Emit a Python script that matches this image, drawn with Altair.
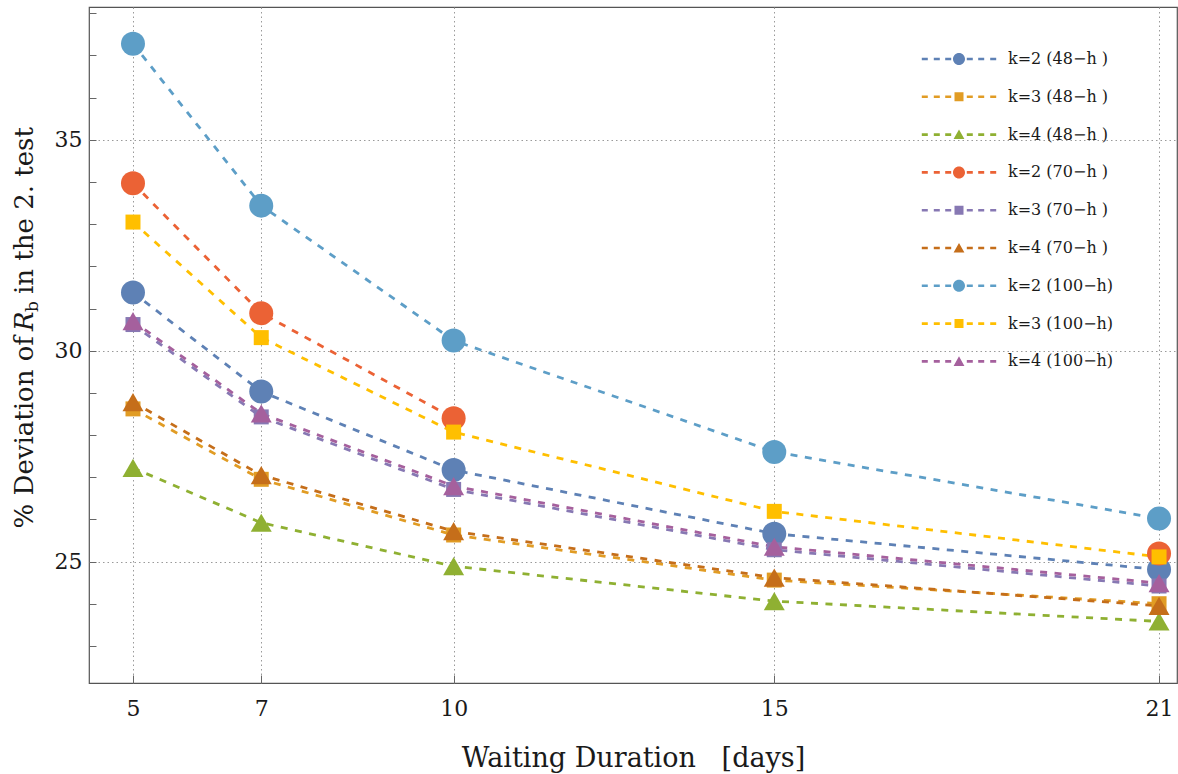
import altair as alt
import pandas as pd

# ---------------- data ----------------
days = [5, 7, 10, 15, 21]
series_names = [
    "k=2 (48\u2212h )", "k=3 (48\u2212h )", "k=4 (48\u2212h )",
    "k=2 (70\u2212h )", "k=3 (70\u2212h )", "k=4 (70\u2212h )",
    "k=2 (100\u2212h)", "k=3 (100\u2212h)", "k=4 (100\u2212h)",
]
k2_48 = [31.38, 29.03, 27.17, 25.66, 24.81]
k3_48 = [28.62, 26.95, 25.63, 24.56, 24.00]
k4_48 = [27.22, 25.92, 24.89, 24.06, 23.58]
k2_70 = [33.97, 30.89, 28.40, None, 25.19]
k3_70 = [30.62, 28.43, 26.71, 25.28, 24.42]
k4_70 = [28.78, 27.05, 25.72, 24.62, 23.95]
k2_100 = [37.28, 33.44, 30.24, 27.60, 26.02]
k3_100 = [33.05, 30.31, 28.07, 26.19, 25.11]
k4_100 = [30.70, 28.51, 26.79, 25.35, 24.49]
values = [k2_48, k3_48, k4_48, k2_70, k3_70, k4_70, k2_100, k3_100, k4_100]

colors = ["#5E81B5", "#E19C24", "#8FB032", "#EB6235", "#8778B3",
          "#C56E1A", "#5D9EC7", "#FFBF00", "#A5609D"]
marker_kind = ["circle", "square", "triangle-up"] * 3
marker_size = {"circle": 576, "square": 225, "triangle-up": 440}

# legend symbols: dashed line with marker in the middle (unit = sqrt(size)/2 px)
dash = ("M-6.2,-0.22H-5.2V0.22H-6.2Z M-4.2,-0.22H-3.2V0.22H-4.2Z M-2.3,-0.22H-1.3V0.22H-2.3Z "
        "M1.3,-0.22H2.3V0.22H1.3Z M3.2,-0.22H4.2V0.22H3.2Z M5.2,-0.22H6.2V0.22H5.2Z ")
legend_marker = {
    "circle": "M1,0A1,1,0,1,1,-1,0A1,1,0,1,1,1,0Z",
    "square": "M-0.75,-0.75H0.75V0.75H-0.75Z",
    "triangle-up": "M0,-0.85L0.9,0.75L-0.9,0.75Z",
}
legend_paths = [dash + legend_marker[m] for m in marker_kind]

rows = []
for si, (name, vals) in enumerate(zip(series_names, values)):
    seg = 0
    for d, v in zip(days, vals):
        if v is None:
            seg += 1
            continue
        rows.append({"series": name, "day": d, "value": v, "idx": si,
                     "marker": marker_kind[si], "msize": marker_size[marker_kind[si]],
                     "seg": f"{si}-{seg}"})
df = pd.DataFrame(rows)

FONT = "DejaVu Serif"
TXT = "#1a1a1a"
W, H = 1088, 676

xscale = alt.Scale(domain=[4.314, 21.28], nice=False, zero=False)
yscale = alt.Scale(domain=[22.12, 38.15], nice=False, zero=False)
cscale = alt.Scale(domain=series_names, range=colors)

x_main = alt.Axis(orient="bottom", values=days, ticks=False, tickSize=0, domain=False,
                  grid=True, gridColor="#9a9a9a", gridDash=[1.5, 3], gridWidth=1,
                  labelFont=FONT, labelFontSize=22, labelColor=TXT, labelPadding=32,
                  labelBaseline="alphabetic", format="d",
                  title="Waiting Duration\u00a0\u00a0 [days]", titleFont=FONT, titleFontSize=27,
                  titleFontWeight="normal", titleColor=TXT, titleX=W / 2, titleY=83,
                  titleBaseline="alphabetic", titleAlign="center")
y_main = alt.Axis(orient="left", values=[25, 30, 35], ticks=False, tickSize=0, domain=False,
                  grid=True, gridColor="#9a9a9a", gridDash=[1.5, 3], gridWidth=1,
                  labelFont=FONT, labelFontSize=22, labelColor=TXT, labelPadding=7,
                  format="d", title=None)
x_ticks = alt.Axis(orient="bottom", values=days, ticks=True, tickSize=8, offset=-8,
                   labels=False, domain=False, grid=False, title=None,
                   tickColor="#666", tickWidth=1)
y_ticks = alt.Axis(orient="left", values=list(range(23, 39)), ticks=True, tickSize=7, offset=-7,
                   labels=False, domain=False, grid=False, title=None,
                   tickColor="#666", tickWidth=1)

lines = alt.Chart(df).mark_line(strokeDash=[7, 7.5], strokeWidth=2.8).encode(
    x=alt.X("day:Q", scale=xscale, axis=x_main),
    y=alt.Y("value:Q", scale=yscale, axis=y_main),
    color=alt.Color("series:N", scale=cscale, legend=None),
    detail="seg:N",
)

points = alt.Chart(df).mark_point(filled=True, opacity=1).encode(
    x=alt.X("day:Q", scale=xscale, axis=None),
    y=alt.Y("value:Q", scale=yscale, axis=None),
    color=alt.Color("series:N", scale=cscale, legend=None),
    shape=alt.Shape("marker:N", scale=None),
    size=alt.Size("msize:Q", scale=None),
    order=alt.Order("idx:Q"),
)

leg = alt.Legend(title=None, orient="none", legendX=862, legendY=44, direction="vertical",
                 symbolSize=144, labelOffset=41, rowPadding=21.8, padding=0,
                 labelFont=FONT, labelFontSize=16, labelColor=TXT, symbolOpacity=1,
                 symbolStrokeWidth=0, labelLimit=300)

legend_layer = alt.Chart(df).mark_point(filled=True, opacity=0).encode(
    x=alt.X("day:Q", scale=xscale, axis=x_ticks),
    y=alt.Y("value:Q", scale=yscale, axis=y_ticks),
    color=alt.Color("series:N", scale=cscale, legend=leg),
    shape=alt.Shape("series:N", scale=alt.Scale(domain=series_names, range=legend_paths),
                    legend=leg),
)

# y-axis title with italic R and subscript b
def ytext(t, y, x=-56, size=26, style="normal", align="left"):
    return alt.Chart(pd.DataFrame({"t": [t]})).mark_text(
        angle=270, font=FONT, fontSize=size, fontStyle=style, color=TXT,
        baseline="alphabetic", align=align,
    ).encode(x=alt.value(x), y=alt.value(y), text="t:N")

yt1 = ytext("% Deviation of", 329, align="right")
yt2 = ytext("R", 324, style="italic")
yt3 = ytext("b", 305, x=-51, size=17)
yt4 = ytext("in the 2. test", 287)

chart = alt.layer(legend_layer, lines, points, yt1, yt2, yt3, yt4).resolve_axis(
    x="independent", y="independent"
).resolve_legend(
    color="independent", shape="independent"
).properties(
    width=W, height=H,
    autosize=alt.AutoSizeParams(type="none"),
    padding={"left": 89, "top": 7, "right": 1, "bottom": 91},
    background="white",
).configure_view(stroke="#555", strokeWidth=1.2)

chart.save("out.html", embed_options={"renderer": "svg", "actions": False})
